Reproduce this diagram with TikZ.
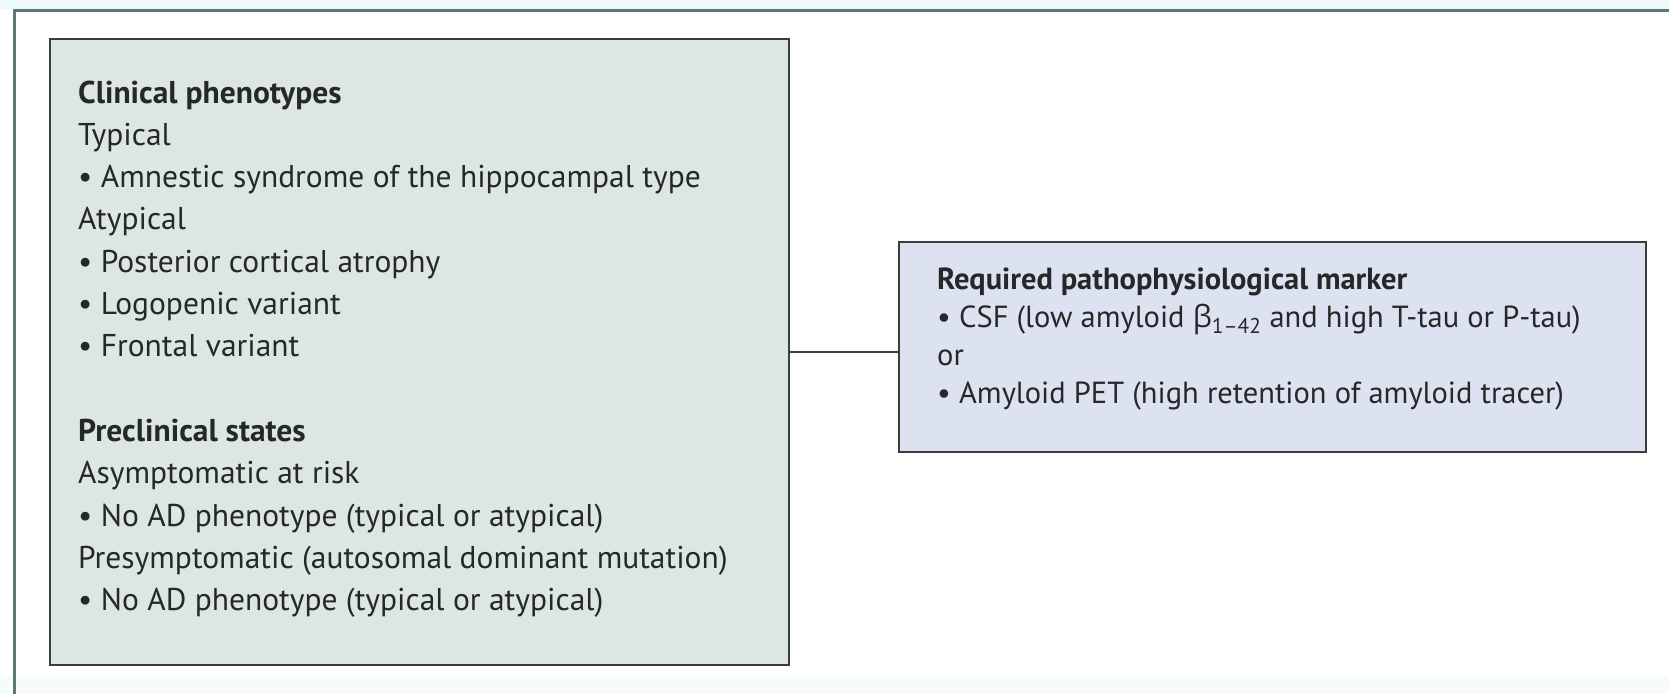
\documentclass[tikz,border=0pt]{standalone}
\usepackage{fontspec}
\setmainfont{PT Sans}
\newfontfamily\grk{Open Sans}
\definecolor{framecol}{HTML}{5E7873}
\definecolor{leftfill}{HTML}{DCE6E2}
\definecolor{rightfill}{HTML}{DDE2F1}
\definecolor{boxline}{HTML}{3A3D3C}
\definecolor{txtcol}{HTML}{262828}
\definecolor{topband}{HTML}{EEF9F9}
\definecolor{botband}{HTML}{F6FCFC}
\tikzset{
  panel/.style={draw=boxline, line width=1.8pt, anchor=north west, inner sep=0pt},
  conn/.style={draw=boxline, line width=1.8pt},
  txt/.style={anchor=base west, inner sep=0pt, text=txtcol, font=\fontsize{31.5}{36}\selectfont},
  head/.style={txt, font=\fontsize{31.5}{36}\selectfont\bfseries},
  rtxt/.style={txt, font=\fontsize{30.5}{36}\selectfont},
  rhead/.style={txt, font=\fontsize{30.5}{36}\selectfont\bfseries},
}
\begin{document}
\begin{tikzpicture}[x=1pt,y=-1pt]
\useasboundingbox (0,0) rectangle (1669,694);
\fill[white] (0,0) rectangle (1669,694);
\fill[topband] (0,0) rectangle (1669,9);
\fill[botband] (0,676) rectangle (1669,694);
\draw[framecol, line width=3pt] (14,694) -- (14,10) -- (1669,10);
% boxes
\node[panel, fill=leftfill, minimum width=739pt, minimum height=626pt] (clin) at (49,38) {};
\node[panel, fill=rightfill, minimum width=747pt, minimum height=210pt] (req) at (898,241) {};
\draw[conn] (clin.east) -- (clin.east -| req.west);
% left text
\node[head] (l1) at (78,103) {Clinical phenotypes};
\node[txt] (l2) at (78,145.3) {Typical};
\node[txt] (l3) at (78,187.6) {• Amnestic syndrome of the hippocampal type};
\node[txt] (l4) at (78,229.9) {Atypical};
\node[txt] (l5) at (78,272.2) {• Posterior cortical atrophy};
\node[txt] (l6) at (78,314.5) {• Logopenic variant};
\node[txt] (l7) at (78,356.8) {• Frontal variant};
\node[head] (l8) at (78,441.4) {Preclinical states};
\node[txt] (l9) at (78,483.7) {Asymptomatic at risk};
\node[txt] (l10) at (78,526) {• No AD phenotype (typical or atypical)};
\node[txt] (l11) at (78,568.3) {Presymptomatic (autosomal dominant mutation)};
\node[txt] (l12) at (78,610.6) {• No AD phenotype (typical or atypical)};
% right text
\node[rhead] (r1) at (937,289) {Required pathophysiological marker};
\node[rtxt] (r2) at (937,327) {• CSF (low amyloid {\grk β}\textsubscript{1–42} and high T-tau or P-tau)};
\node[rtxt] (r3) at (937,365) {or};
\node[rtxt] (r4) at (937,403) {• Amyloid PET (high retention of amyloid tracer)};
\end{tikzpicture}
\end{document}
